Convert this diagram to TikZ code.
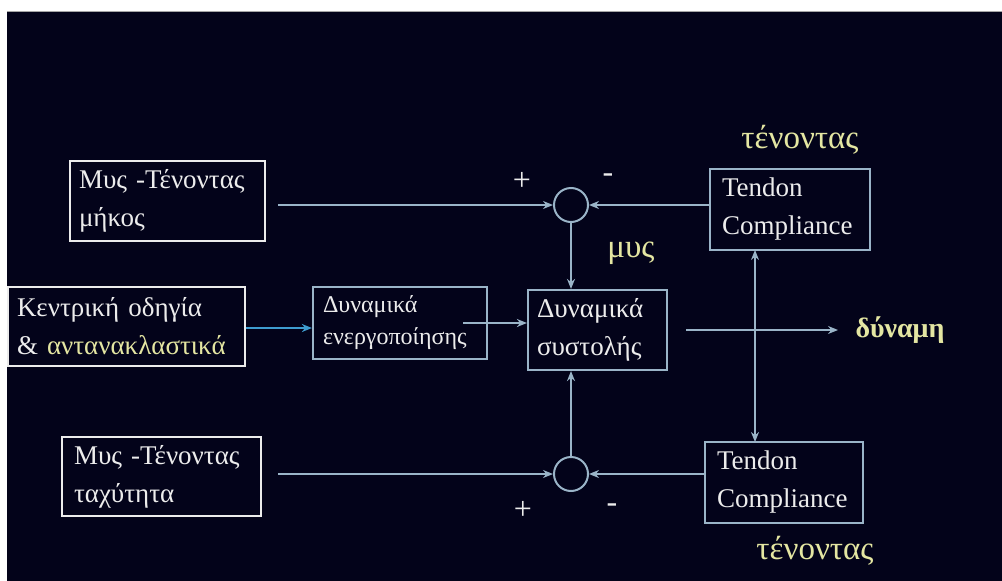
\documentclass[tikz,border=0pt]{standalone}
\usepackage{fontspec}
\setmainfont{Liberation Serif}
\usetikzlibrary{arrows.meta,calc}
\definecolor{bg}{HTML}{03031A}
\definecolor{ln}{HTML}{9AB4C8}
\definecolor{cy}{HTML}{3E9CCF}
\definecolor{yl}{HTML}{E4E6A2}
\definecolor{wt}{HTML}{ECECEC}
\tikzset{
  >={Stealth[length=10pt,width=8pt]},
  box/.style={draw=#1, line width=2.2pt, inner xsep=0pt, inner ysep=0pt, align=left, text=wt, anchor=center},
  conn/.style={draw=ln, line width=2pt, ->},
  sumc/.style={circle, draw=ln, line width=2pt, minimum size=34pt, inner sep=0pt},
  lbl/.style={text=yl, font=\fontsize{33}{33}\selectfont},
  sgn/.style={text=wt, font=\fontsize{32}{32}\selectfont},
  big/.style={font=\fontsize{27}{38}\selectfont},
}
\begin{document}
\begin{tikzpicture}[x=1pt,y=-1pt]
\useasboundingbox (0,0) rectangle (1002,581);
\fill[white] (0,0) rectangle (1002,581);
\fill[bg] (7,11) rectangle (1002,581);
\draw[gray!70, line width=1pt] (7,11.5) -- (1002,11.5);
% boxes
\node[box=wt, big, minimum width=195pt, minimum height=80pt, text width=177pt] (len) at (167.5,201) {Μυς -Τένοντας\\μήκος};
\node[box=wt, big, minimum width=237pt, minimum height=79pt, text width=219pt] (cmd) at (126.5,326.5) {Κεντρική οδηγία\\\& \textcolor{yl}{αντανακλαστικά}};
\node[box=wt, big, minimum width=199pt, minimum height=79pt, text width=175pt] (vel) at (161.5,476.5) {Μυς -Τένοντας\\ταχύτητα};
\node[box=ln, font=\fontsize{24}{32}\selectfont, minimum width=174pt, minimum height=72pt, text width=154pt] (act) at (400,323) {Δυναμικά\\ενεργοποίησης};
\node[box=ln, font=\fontsize{27}{38}\selectfont, minimum width=139pt, minimum height=80pt, text width=121pt] (con) at (597.5,330) {Δυναμικά\\συστολής};
\node[box=ln, big, minimum width=160pt, minimum height=81pt, text width=136pt] (tc1) at (790,209.5) {Tendon\\Compliance};
\node[box=ln, big, minimum width=158pt, minimum height=81pt, text width=134pt] (tc2) at (784,482.5) {Tendon\\Compliance};
% summing junctions
\node[sumc] (s1) at (571,205) {};
\node[sumc] (s2) at (571,474) {};
% labels
\node[lbl] (t1) at (800,140) {τένοντας};
\node[lbl] (t2) at (815,551) {τένοντας};
\node[lbl] (mu) at (631,253) {μυς};
\node[text=yl, font=\fontsize{28}{28}\selectfont\bfseries, anchor=west] (force) at (852,330) {δύναμη};
\node[sgn] (p1) at (522,181) {+};
\node[sgn] (m1) at (608,178) {-};
\node[sgn] (p2) at (523,510) {+};
\node[sgn] (m2) at (612,508) {-};
% coordinates
\coordinate (lenout) at (278,205);
\coordinate (velout) at (278,474);
\coordinate (actout) at (463,323);
\coordinate (conout) at (686,330);
\coordinate (forcein) at (838,330);
\coordinate (tctop) at (755,250);
\coordinate (tcbot) at (755,442);
% connectors
\draw[conn] (lenout) -- (s1.west);
\draw[conn] (velout) -- (s2.west);
\draw[conn] (tc1.west |- s1) -- (s1.east);
\draw[conn] (tc2.west |- s2) -- (s2.east);
\draw[conn] (s1.south) -- (s1.south |- con.north);
\draw[conn] (s2.north) -- (s2.north |- con.south);
\draw[conn, draw=cy] (cmd.east |- 0,328) -- (act.west |- 0,328);
\draw[conn] (actout) -- (con.west |- actout);
\draw[conn] (conout) -- (forcein);
\draw[draw=ln, line width=2pt, <->] (tctop) -- (tcbot);
\end{tikzpicture}
\end{document}
